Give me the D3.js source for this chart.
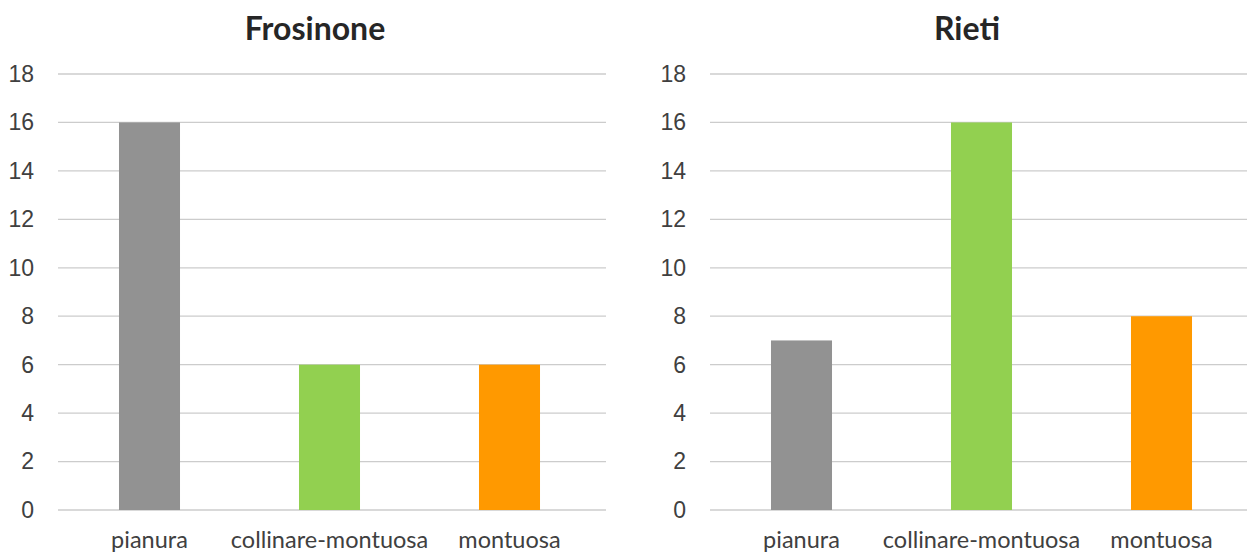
<!DOCTYPE html>
<html>
<head>
<meta charset="utf-8">
<script src="https://cdn.jsdelivr.net/npm/d3@7"></script>
<style>
  body { margin: 0; background: #fff; }
  svg { display: block; font-family: "Century Gothic", "Lato", "Noto Sans", sans-serif; }
</style>
</head>
<body>
<svg width="1247" height="552"></svg>
<script>
// categories and values per province
var categories = ["pianura", "collinare-montuosa", "montuosa"];
var colors = ["#929292", "#92d050", "#ff9900"];
var frosinoneValues = [16, 6, 6];
var rietiValues = [7, 16, 8];
var yTicks = [0, 2, 4, 6, 8, 10, 12, 14, 16, 18];

var svg = d3.select("svg");

function drawPanel(title, values, x0, gridEnd) {
    var g = svg.append("g");

    var x = d3.scaleBand()
        .domain(categories)
        .range([x0 + 1.5, x0 + 541.5])
        .paddingInner(0.661)
        .paddingOuter(0.3305);

    var y = d3.scaleLinear().domain([0, 18]).range([510, 74]);

    // gridlines
    g.append("g")
        .selectAll("line")
        .data(yTicks)
        .enter()
        .append("line")
        .attr("x1", x0)
        .attr("x2", gridEnd)
        .attr("y1", d => y(d))
        .attr("y2", d => y(d))
        .attr("stroke", "#cccccc")
        .attr("stroke-width", 1.3);

    // y axis labels
    var axisY = d3.axisLeft(y).tickValues(yTicks).tickSize(0).tickPadding(24);
    var ax = g.append("g").attr("transform", "translate(" + x0 + ",0)").call(axisY);
    ax.select(".domain").remove();
    ax.selectAll("text")
        .attr("font-size", 23)
        .attr("fill", "#404040")
        .attr("font-family", null);

    // bars
    g.append("g")
        .selectAll("rect")
        .data(values)
        .enter()
        .append("rect")
        .attr("x", (d, i) => x(categories[i]))
        .attr("y", d => y(d))
        .attr("width", x.bandwidth())
        .attr("height", d => y(0) - y(d))
        .attr("fill", (d, i) => colors[i]);

    // category labels
    g.append("g")
        .selectAll("text")
        .data(categories)
        .enter()
        .append("text")
        .attr("x", d => x(d) + x.bandwidth() / 2)
        .attr("y", 548)
        .attr("text-anchor", "middle")
        .attr("font-size", 23.5)
        .attr("fill", "#404040")
        .text(d => d);

    // title
    g.append("text")
        .attr("x", x0 + 257)
        .attr("y", 40)
        .attr("text-anchor", "middle")
        .attr("font-size", 32)
        .attr("font-weight", "bold")
        .attr("fill", "#262626")
        .text(title);
}

drawPanel("Frosinone", frosinoneValues, 58, 606);
drawPanel("Rieti", rietiValues, 710, 1250);
</script>
</body>
</html>
